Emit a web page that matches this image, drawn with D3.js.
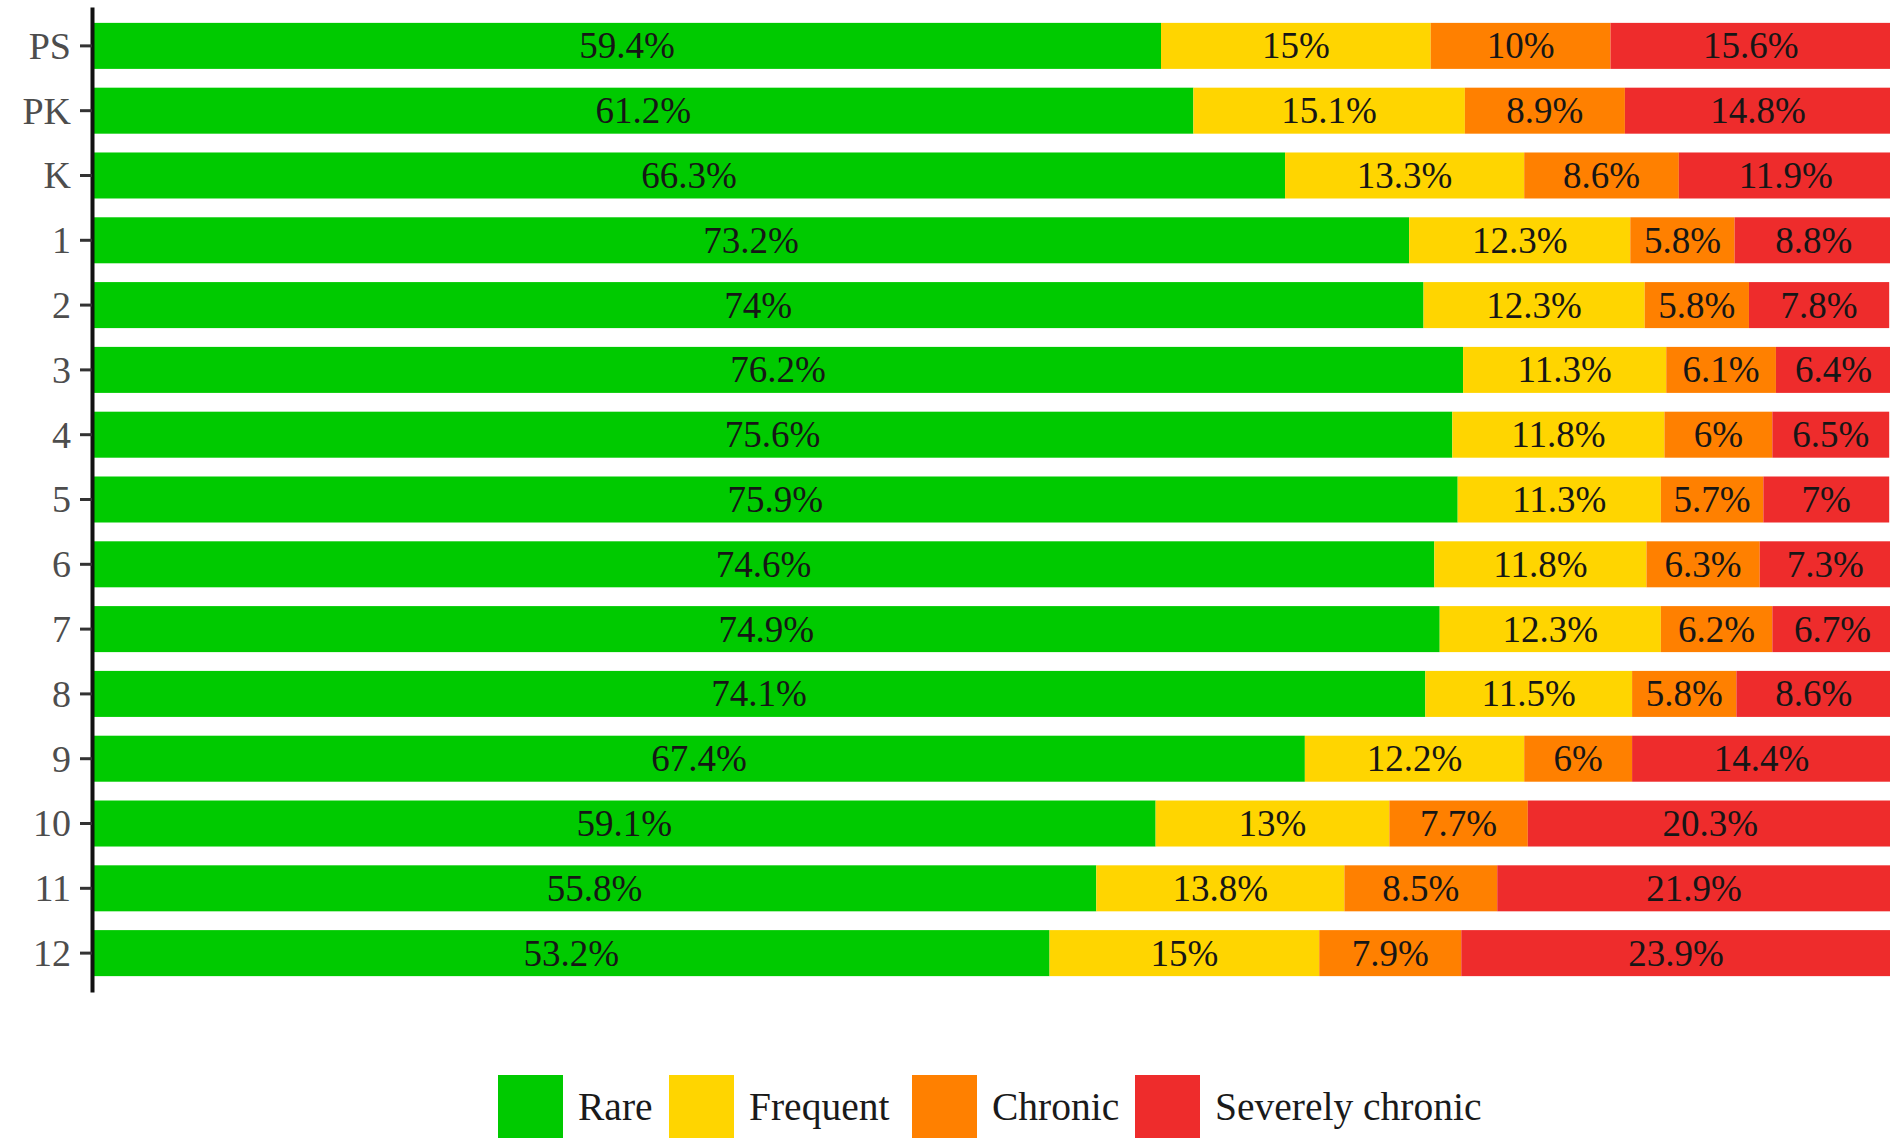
<!DOCTYPE html>
<html>
<head>
<meta charset="utf-8">
<script src="https://cdn.jsdelivr.net/npm/d3@7"></script>
<style>
  html, body { margin: 0; padding: 0; background: #fff; overflow: hidden; }
  svg { display: block; }
</style>
</head>
<body>
<svg id="chart" width="1890" height="1138"></svg>
<script>
const categories = ["PS", "PK", "K", "1", "2", "3", "4", "5", "6", "7", "8", "9", "10", "11", "12"];
const seriesNames = ["Rare", "Frequent", "Chronic", "Severely chronic"];
const rare      = [59.4, 61.2, 66.3, 73.2, 74.0, 76.2, 75.6, 75.9, 74.6, 74.9, 74.1, 67.4, 59.1, 55.8, 53.2];
const frequent  = [15.0, 15.1, 13.3, 12.3, 12.3, 11.3, 11.8, 11.3, 11.8, 12.3, 11.5, 12.2, 13.0, 13.8, 15.0];
const chronic   = [10.0, 8.9, 8.6, 5.8, 5.8, 6.1, 6.0, 5.7, 6.3, 6.2, 5.8, 6.0, 7.7, 8.5, 7.9];
const severe    = [15.6, 14.8, 11.9, 8.8, 7.8, 6.4, 6.5, 7.0, 7.3, 6.7, 8.6, 14.4, 20.3, 21.9, 23.9];
const colors    = ["#00CA00", "#FFD500", "#FF8000", "#EE2C2C"];

const seriesValues = [rare, frequent, chronic, severe];
const table = categories.map((c, i) => {
  const row = { cat: c };
  seriesNames.forEach((s, k) => row[s] = seriesValues[k][i]);
  return row;
});

const svg = d3.select("#chart");
const serif = "'Liberation Serif', 'DejaVu Serif', serif";

const x = d3.scaleLinear().domain([0, 100]).range([93, 1891]);
const y = d3.scaleBand().domain(categories).range([7, 992]).paddingInner(0.29).paddingOuter(0.245);
const color = d3.scaleOrdinal().domain(seriesNames).range(colors);

const stacked = d3.stack().keys(seriesNames)(table);

const layers = svg.append("g").selectAll("g")
  .data(stacked).join("g")
  .attr("fill", d => color(d.key));

layers.selectAll("rect")
  .data(d => d).join("rect")
  .attr("x", d => x(d[0]))
  .attr("y", d => y(d.data.cat))
  .attr("width", d => Math.max(0, x(d[1]) - x(d[0])))
  .attr("height", y.bandwidth());

const fmt = v => (Math.round(v * 10) / 10) + "%";

svg.append("g").selectAll("g")
  .data(stacked).join("g")
  .selectAll("text")
  .data(d => d.map(p => ({ p, v: p[1] - p[0] }))).join("text")
  .attr("x", d => x((d.p[0] + d.p[1]) / 2))
  .attr("y", d => y(d.p.data.cat) + y.bandwidth() / 2)
  .attr("dy", "0.34em")
  .attr("text-anchor", "middle")
  .attr("font-family", serif)
  .attr("font-size", 37)
  .attr("fill", "#161616")
  .text(d => fmt(d.v));

// y axis
const yAxis = svg.append("g")
  .attr("transform", "translate(92,0)")
  .call(d3.axisLeft(y).tickSize(12).tickSizeOuter(0).tickPadding(9));
yAxis.select(".domain").attr("stroke", "#111").attr("stroke-width", 4);
yAxis.selectAll(".tick line").attr("stroke", "#333").attr("stroke-width", 3);
yAxis.selectAll(".tick text")
  .attr("font-family", serif)
  .attr("font-size", 38)
  .attr("fill", "#4d4d4d")
  .attr("dy", "0.34em");

// legend
const legendX = [498, 669, 912, 1135];
const legend = svg.append("g").selectAll("g")
  .data(seriesNames).join("g")
  .attr("transform", (d, i) => `translate(${legendX[i]},1075)`);
legend.append("rect")
  .attr("width", 65).attr("height", 65)
  .attr("fill", d => color(d));
legend.append("text")
  .attr("x", 80).attr("y", 32).attr("dy", "0.34em")
  .attr("font-family", serif)
  .attr("font-size", 39.5)
  .attr("fill", "#1a1a1a")
  .text(d => d);
</script>
</body>
</html>
